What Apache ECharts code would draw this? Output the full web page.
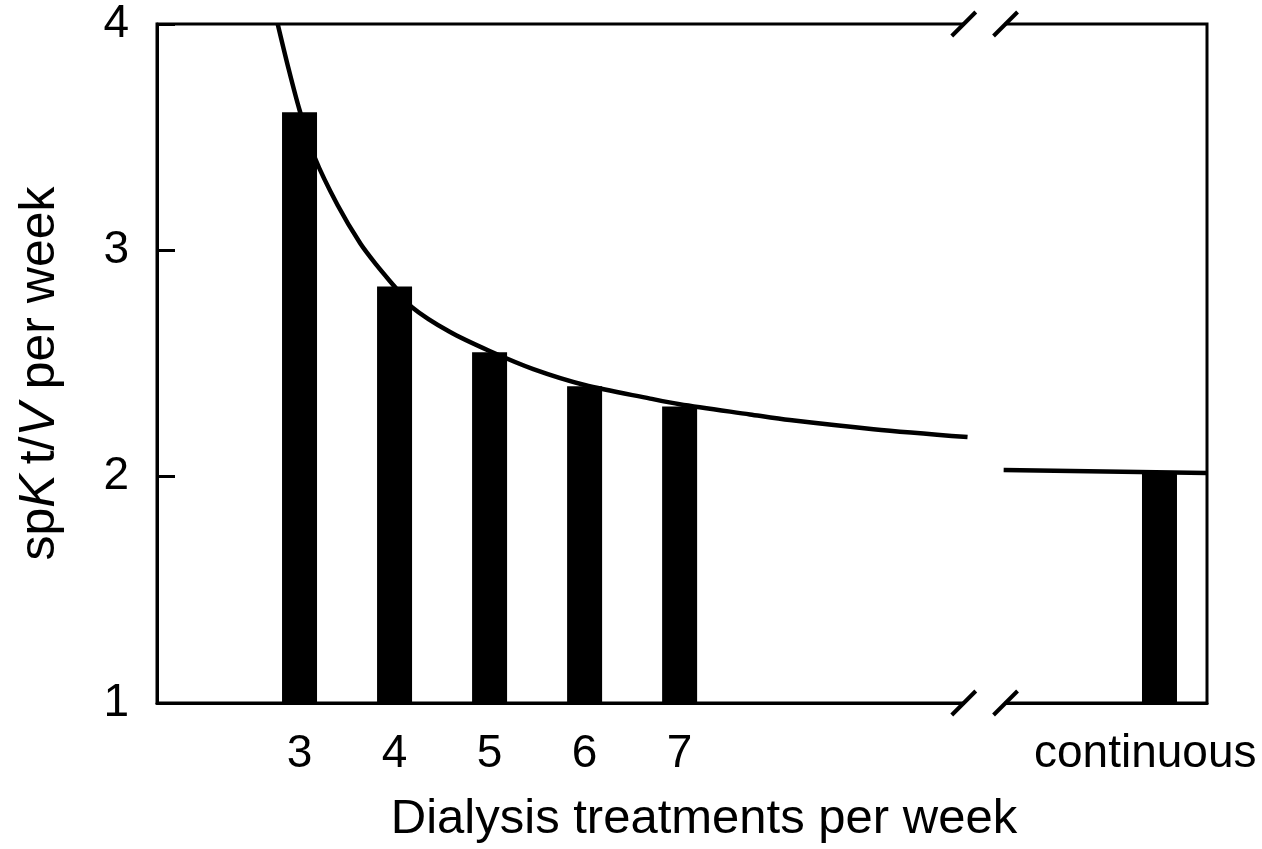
<!DOCTYPE html>
<html lang="en">
<head>
	<meta charset="utf-8">
	<title>spKt/V per week</title>
	<script src="https://cdn.jsdelivr.net/npm/echarts@6/dist/echarts.min.js"></script>
	<style>
		html, body { margin: 0; padding: 0; background: #fff; }
		#main { width: 1262px; height: 849px; }
	</style>
</head>
<body>
	<div id="main"></div>
	<script type="text/javascript">
		// bars: treatments per week, last one is "continuous"
		var barX = [3, 4, 5, 6, 7, 12.05];
		var barY = [3.61, 2.84, 2.55, 2.40, 2.31, 2.02];
		// curve before the axis break
		var curveLeftX = [2.77, 2.88, 3.0, 3.16, 3.40, 3.64, 3.82, 4.0, 4.18, 4.58, 5.0, 5.46, 6.0, 6.69, 7.0, 7.74, 8.16, 9.04, 10.03];
		var curveLeftY = [4.0, 3.81, 3.62, 3.41, 3.20, 3.03, 2.93, 2.84, 2.75, 2.64, 2.555, 2.475, 2.405, 2.345, 2.32, 2.275, 2.25, 2.21, 2.175];
		// curve after the axis break
		var curveRightX = [10.41, 12.55];
		var curveRightY = [2.029, 2.016];
		// x tick labels
		var xTickValues = [3, 4, 5, 6, 7, 11.9];
		var xTickLabels = ['3', '4', '5', '6', '7', 'continuous'];
		// where the axis is broken
		var breakX = [9.99, 10.43];

		function pairs(xs, ys) {
			var out = [];
			for (var i = 0; i < xs.length; i++) {
				out.push([xs[i], ys[i]]);
			}
			return out;
		}

		var font = 'Liberation Sans, Arial, sans-serif';
		var myChart = echarts.init(document.getElementById('main'));

		var option = {
			backgroundColor: '#fff',
			animation: false,
			grid: {
				left: 157, right: 55, top: 24, bottom: 145,
				show: true, borderColor: '#000', borderWidth: 3,
				backgroundColor: 'transparent'
			},
			xAxis: {
				type: 'value',
				min: 1.5,
				max: 12.55,
				interval: 0.1,
				name: 'Dialysis treatments per week',
				nameLocation: 'middle',
				nameGap: 92,
				nameTextStyle: { fontFamily: font, fontSize: 49, color: '#000', padding: [0, 0, 0, 44] },
				axisLine: { show: true, lineStyle: { color: '#000', width: 3 } },
				axisTick: { show: false },
				splitLine: { show: false },
				axisLabel: {
					margin: 28,
					fontFamily: font,
					fontSize: 46,
					color: '#000',
					showMinLabel: true,
					showMaxLabel: true,
					formatter: function (v) {
						for (var i = 0; i < xTickValues.length; i++) {
							if (Math.abs(v - xTickValues[i]) < 1e-6) return xTickLabels[i];
						}
						return '';
					}
				}
			},
			yAxis: {
				type: 'value',
				min: 1,
				max: 4,
				interval: 1,
				name: 'sp{i|K}\u2009t/{i|V} per week',
				nameLocation: 'middle',
				nameGap: 92,
				nameTextStyle: {
					fontFamily: font, fontSize: 50, color: '#000',
					padding: [0, 20, 0, 0],
					rich: {
						i: { fontFamily: font, fontSize: 50, fontStyle: 'italic', color: '#000' }
					}
				},
				axisLine: { show: true, lineStyle: { color: '#000', width: 3 } },
				axisTick: { show: true, inside: true, length: 18, lineStyle: { color: '#000', width: 3 } },
				splitLine: { show: false },
				axisLabel: { margin: 28, fontFamily: font, fontSize: 46, color: '#000' }
			},
			series: [
				{
					type: 'bar',
					data: pairs(barX, barY),
					barWidth: 35,
					itemStyle: { color: '#000' },
					z: 2
				},
				{
					type: 'line',
					data: pairs(curveLeftX, curveLeftY),
					smooth: 0.3,
					symbol: 'none',
					lineStyle: { color: '#000', width: 4.5 },
					z: 3
				},
				{
					type: 'line',
					data: pairs(curveRightX, curveRightY),
					symbol: 'none',
					lineStyle: { color: '#000', width: 4.5 },
					z: 3
				}
			]
		};
		myChart.setOption(option);

		// axis break marks on the top and bottom of the frame
		var graphics = [];
		var left = myChart.convertToPixel({ xAxisIndex: 0, yAxisIndex: 0 }, [breakX[0], 4]);
		var right = myChart.convertToPixel({ xAxisIndex: 0, yAxisIndex: 0 }, [breakX[1], 4]);
		var yTop = left[1];
		var yBottom = myChart.convertToPixel({ yAxisIndex: 0 }, 1);
		[yTop, yBottom].forEach(function (yy) {
			graphics.push({
				type: 'rect', z: 100,
				shape: { x: left[0] + 1, y: yy - 4, width: right[0] - left[0] - 2, height: 8 },
				style: { fill: '#fff' }
			});
			[left[0], right[0]].forEach(function (xx) {
				graphics.push({
					type: 'line', z: 101,
					shape: { x1: xx - 12, y1: yy + 12, x2: xx + 12, y2: yy - 12 },
					style: { stroke: '#000', lineWidth: 4 }
				});
			});
		});
		myChart.setOption({ graphic: graphics });
	</script>
</body>
</html>
